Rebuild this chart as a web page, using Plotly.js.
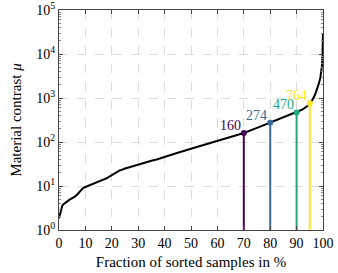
<!DOCTYPE html>
<html><head><meta charset="utf-8">
<script src="https://cdn.plot.ly/plotly-3.0.1.min.js"></script>
<style>html,body{margin:0;padding:0;background:#fff}#c{width:338px;height:273px}</style>
</head><body><div id="c"></div>
<script>
var fraction = [0,0.3,0.6,1,1.2,1.6,2,3,4,5,6,7,8,9,10,11,12,13,14,15,16,17,18,19,20,21,22,23,24,25,27,30,32,35,37,40,42,45,50,55,60,65,70,75,80,85,88,90,92,94,95,96,97,98,98.5,99,99.3,99.6,99.8,100];
var contrast = [1.85,2.2,2.5,3.0,3.5,3.8,4.0,4.4,4.9,5.3,5.7,6.5,7.8,8.9,9.5,10.1,10.5,11.3,12.3,12.8,13.5,14.2,15,16.3,17.5,19.8,21.5,22.5,23.5,25,27,31,33,37.6,40,46,50,57,70,86,106,130,160,210,274,358,420,470,540,650,764,900,1200,1700,2200,2900,3800,5300,9000,29000];
var markFraction = [70,80,90,95];
var markValue = [160,274,470,764];
var markLabel = ['160','274','470','764'];
var markColor = ['#440154','#3b6aa0','#21a883','#fde725'];
var yTickVals = [1,10,100,1000,10000,100000];
var yTickText = ['10<sup>0</sup>','10<sup>1</sup>','10<sup>2</sup>','10<sup>3</sup>','10<sup>4</sup>','10<sup>5</sup>'];
var xTickVals = [0,10,20,30,40,50,60,70,80,90,100];

var font = '"Liberation Serif", serif';
var traces = [{x:fraction,y:contrast,mode:'lines',line:{color:'#000',width:2},hoverinfo:'skip',showlegend:false}];
for (var i=0;i<markFraction.length;i++){
  traces.push({x:[markFraction[i],markFraction[i]],y:[yTickVals[0],markValue[i]],mode:'lines',line:{color:markColor[i],width:2},showlegend:false});
}
traces.push({x:markFraction,y:markValue,mode:'markers',marker:{color:markColor,size:6},showlegend:false,cliponaxis:false});
var annotations = [];
for (var j=0;j<markFraction.length;j++){
  annotations.push({x:markFraction[j],y:Math.log10(markValue[j]),xref:'x',yref:'y',text:markLabel[j],showarrow:false,
    xanchor:'right',yanchor:'bottom',xshift:-1,yshift:-2,font:{family:font,size:14,color:markColor[j]}});
}

var layout = {
  width:338,height:273,
  margin:{l:59,r:15,t:10,b:43},
  paper_bgcolor:'#fff',plot_bgcolor:'#fff',
  font:{family:font,size:14,color:'#000'},
  annotations:annotations,
  xaxis:{range:[0,100],tickvals:xTickVals,ticks:'inside',ticklen:4,tickcolor:'#444',mirror:'allticks',
    showline:true,linecolor:'#444',linewidth:1,showgrid:true,gridcolor:'#dcdcdc',griddash:'dash',gridwidth:1,
    zeroline:false,title:{text:'Fraction of sorted samples in %',font:{family:font,size:15},standoff:6},tickfont:{family:font,size:14}},
  yaxis:{type:'log',range:[0,5],tickvals:yTickVals,ticktext:yTickText,ticks:'inside',ticklen:4,tickcolor:'#444',mirror:'allticks',
    showline:true,linecolor:'#444',linewidth:1,showgrid:true,gridcolor:'#dcdcdc',griddash:'dash',gridwidth:1,
    zeroline:false,minor:{ticks:'inside',ticklen:2,tickcolor:'#888',dtick:'D1',showgrid:false},
    title:{text:'Material contrast <i>μ</i>',font:{family:font,size:15},standoff:11},tickfont:{family:font,size:14}}
};
Plotly.newPlot('c',traces,layout,{displayModeBar:false,staticPlot:true});
</script></body></html>
